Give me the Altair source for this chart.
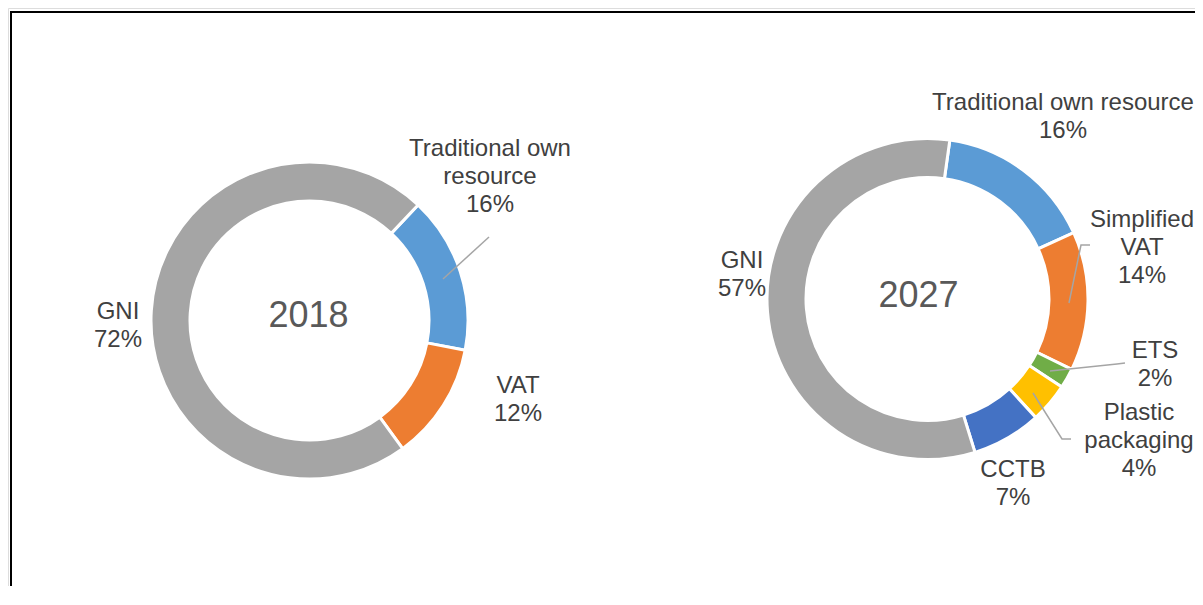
import altair as alt
import pandas as pd
import numpy as np

# ---------------- data ----------------
cats_2018 = ["Traditional own resource", "VAT", "GNI"]
vals_2018 = [16, 12, 72]
labels_2018 = ["Traditional own\nresource\n16%", "VAT\n12%", "GNI\n72%"]

cats_2027 = ["Traditional own resource", "Simplified VAT", "ETS",
             "Plastic packaging", "CCTB", "GNI"]
vals_2027 = [16, 14, 2, 4, 7, 57]
labels_2027 = ["Traditional own resource\n16%", "Simplified\nVAT\n14%", "ETS\n2%",
               "Plastic\npackaging\n4%", "CCTB\n7%", "GNI\n57%"]

years = ["2018", "2027"]

color_domain = ["Traditional own resource", "VAT", "Simplified VAT", "ETS",
                "Plastic packaging", "CCTB", "GNI"]
color_range = ["#5B9BD5", "#ED7D31", "#ED7D31", "#70AD47", "#FFC000", "#4472C4", "#A5A5A5"]

# ---------------- layout (page pixels) ----------------
OFF = 8
W, H = 1187, 578
centers = {"2018": (309.5, 320.5), "2027": (927.5, 299.0)}
start_deg = {"2018": 43.2, "2027": 8.0}
radii = {"2018": (119.5, 158.5), "2027": (121.5, 160.5)}
year_pos = {"2018": (308.5, 327), "2027": (918.5, 307)}

label_pos_2018 = [(490, 156), (518, 393), (118, 319)]
label_pos_2027 = [(1063, 110), (1142, 227), (1155, 358), (1139, 420), (1013, 477), (742, 268)]

leaders = [
    [(489, 237), (443, 279)],
    [(1090, 245), (1081, 245), (1069, 303)],
    [(1125, 363), (1117, 364), (1050, 371)],
    [(1071, 439), (1062, 439), (1033, 393)],
]

FONT = "Liberation Sans"

color_scale = alt.Scale(domain=color_domain, range=color_range)


def donut(year, cats, vals):
    df = pd.DataFrame({"cat": cats, "val": vals, "ord": list(range(len(cats)))})
    cx, cy = centers[year]
    r0, r1 = radii[year]
    s = np.deg2rad(start_deg[year])
    return alt.Chart(df).mark_arc(
        innerRadius=r0, outerRadius=r1, stroke="white", strokeWidth=3
    ).encode(
        theta=alt.Theta("val:Q", stack=True,
                        scale=alt.Scale(range=[float(s), float(s + 2 * np.pi)])),
        order=alt.Order("ord:Q"),
        color=alt.Color("cat:N", scale=color_scale, legend=None),
        x=alt.value(cx - OFF),
        y=alt.value(cy - OFF),
    )


arc18 = donut("2018", cats_2018, vals_2018)
arc27 = donut("2027", cats_2027, vals_2027)

lab_rows = []
for t, (x, y) in zip(labels_2018, label_pos_2018):
    lab_rows.append({"t": t, "x": x - OFF, "y": y - OFF})
for t, (x, y) in zip(labels_2027, label_pos_2027):
    lab_rows.append({"t": t, "x": x - OFF, "y": y - OFF})
lab_df = pd.DataFrame(lab_rows)

labels = alt.Chart(lab_df).mark_text(
    align="center", baseline="alphabetic", lineBreak="\n", lineHeight=28,
    fontSize=24, font=FONT, color="#404040"
).encode(
    x=alt.X("x:Q", scale=None, axis=None),
    y=alt.Y("y:Q", scale=None, axis=None),
    text="t:N",
)

year_df = pd.DataFrame({
    "t": years,
    "x": [year_pos[y][0] - OFF for y in years],
    "y": [year_pos[y][1] - OFF for y in years],
})
year_text = alt.Chart(year_df).mark_text(
    align="center", baseline="alphabetic", fontSize=36, font=FONT, color="#595959"
).encode(
    x=alt.X("x:Q", scale=None, axis=None),
    y=alt.Y("y:Q", scale=None, axis=None),
    text="t:N",
)

lead_rows = []
for g, pts in enumerate(leaders):
    for i, (x, y) in enumerate(pts):
        lead_rows.append({"g": g, "i": i, "x": x - OFF, "y": y - OFF})
lead_df = pd.DataFrame(lead_rows)
leader_lines = alt.Chart(lead_df).mark_line(color="#A5A5A5", strokeWidth=1.5).encode(
    x=alt.X("x:Q", scale=None, axis=None),
    y=alt.Y("y:Q", scale=None, axis=None),
    detail="g:N",
    order="i:Q",
)

dummy = pd.DataFrame({"a": [0]})
frame_top = alt.Chart(dummy).mark_rule(color="black", strokeWidth=2).encode(
    x=alt.value(3), x2=alt.value(W), y=alt.value(4)
)
frame_left = alt.Chart(dummy).mark_rule(color="black", strokeWidth=2).encode(
    x=alt.value(3), y=alt.value(3), y2=alt.value(H)
)

chart = alt.layer(
    arc18, arc27, leader_lines, labels, year_text, frame_top, frame_left
).resolve_scale(theta="independent").properties(
    width=W, height=H, padding=0, autosize=alt.AutoSizeParams(type="none")
).configure_view(stroke=None).configure(background="white")

chart.save("out.html", embed_options={"renderer": "svg", "actions": False})
